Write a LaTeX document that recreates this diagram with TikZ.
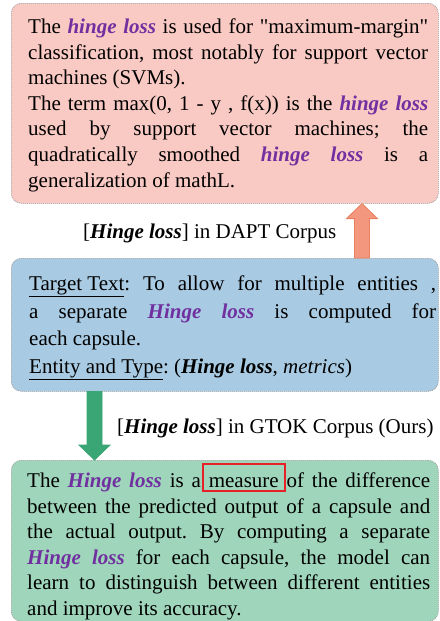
\documentclass[tikz,border=0pt]{standalone}
\usepackage{fontspec}
\setmainfont{Liberation Serif}[Ligatures=TeXOff]
\usetikzlibrary{calc}
\definecolor{pinkfill}{HTML}{F9C9C3}
\definecolor{bluefill}{HTML}{A8CAE2}
\definecolor{greenfill}{HTML}{9FD5BA}
\definecolor{hlpurple}{HTML}{7030A0}
\definecolor{orangearr}{HTML}{F4977F}
\definecolor{orangeedge}{HTML}{E8805F}
\definecolor{greenarr}{HTML}{3AA675}
\definecolor{boxred}{HTML}{E8202A}
\definecolor{edgegray}{HTML}{9A9A9A}
\newcommand{\hlterm}[1]{\textcolor{hlpurple}{\textbf{\textit{#1}}}}
\newcommand{\bterm}[1]{\textbf{\textit{#1}}}
\frenchspacing
\begin{document}
\begin{tikzpicture}[x=1pt,y=-1pt,
  panel/.style={draw=edgegray, line width=0.6pt, dash pattern=on 1.2pt off 0.8pt,
    rounded corners=10pt, anchor=north west, inner sep=0pt, minimum width=427pt},
  body/.style={anchor=north west, inner sep=0pt, align=justify},
  lbl/.style={anchor=base west, inner sep=0pt, font=\fontsize{21}{25.6}\selectfont},
  blockarrow/.style={line width=0.8pt, line join=miter}
]
\useasboundingbox (0,0) rectangle (439,621);
% panels
\node[panel, fill=pinkfill, minimum height=200pt] (pink) at (11,3) {};
\node[panel, fill=bluefill, minimum height=133pt] (blue) at (11,258) {};
\node[panel, fill=greenfill, minimum height=161pt] (green) at (11,460) {};
% texts
\node[body, text width=400pt, font=\fontsize{21}{25.6}\selectfont] (ptext) at (28,18.5) {%
The \hlterm{hinge loss} is used for "maximum-margin" \linebreak
classification, most notably for support vector \linebreak
machines (SVMs).\\
The term max(0, 1 - y , f(x)) is the \hlterm{hinge loss} \linebreak
used by support vector machines; the \linebreak
quadratically smoothed \hlterm{hinge loss} is a \linebreak
generalization of mathL.};
\node[body, text width=407pt, font=\fontsize{21}{27.6}\selectfont] (btext) at (29,275.5) {%
\underline{Target Text}: To allow for multiple entities , \linebreak
a separate \hlterm{Hinge loss} is computed for \linebreak
each capsule.\\
\underline{Entity and Type}: (\bterm{Hinge loss}, \textit{metrics})};
\node[body, text width=403pt, font=\fontsize{21}{25.6}\selectfont] (gtext) at (27,472.5) {%
The \hlterm{Hinge loss} is a measure of the difference \linebreak
between the predicted output of a capsule and \linebreak
the actual output. By computing a separate \linebreak
\hlterm{Hinge loss} for each capsule, the model can \linebreak
learn to distinguish between different entities \linebreak
and improve its accuracy.};
% red highlight box
\node[draw=boxred, line width=2pt, anchor=north west, minimum width=82pt, minimum height=27pt, inner sep=0pt] (redbox) at (202,463) {};
% labels
\node[lbl] (dapt) at (83,238) {[\bterm{Hinge loss}] in DAPT Corpus};
\node[lbl] (gtok) at (117,433) {[\bterm{Hinge loss}] in GTOK Corpus (Ours)};
% arrows
\coordinate (ox) at (362,0);
\coordinate (gx) at (94.5,0);
\draw[blockarrow, draw=orangeedge, fill=orangearr]
  ($(blue.north -| ox)+(-7.5,0)$) -- ($(pink.south -| ox)+(-7.5,15)$)
  -- ($(pink.south -| ox)+(-15.5,15)$) -- (pink.south -| ox)
  -- ($(pink.south -| ox)+(15.5,15)$) -- ($(pink.south -| ox)+(7.5,15)$)
  -- ($(blue.north -| ox)+(7.5,0)$) -- cycle;
\draw[blockarrow, draw=greenarr, fill=greenarr]
  ($(blue.south -| gx)+(-7.5,0)$) -- ($(green.north -| gx)+(-7.5,-15)$)
  -- ($(green.north -| gx)+(-15.5,-15)$) -- (green.north -| gx)
  -- ($(green.north -| gx)+(15.5,-15)$) -- ($(green.north -| gx)+(7.5,-15)$)
  -- ($(blue.south -| gx)+(7.5,0)$) -- cycle;
\end{tikzpicture}
\end{document}
